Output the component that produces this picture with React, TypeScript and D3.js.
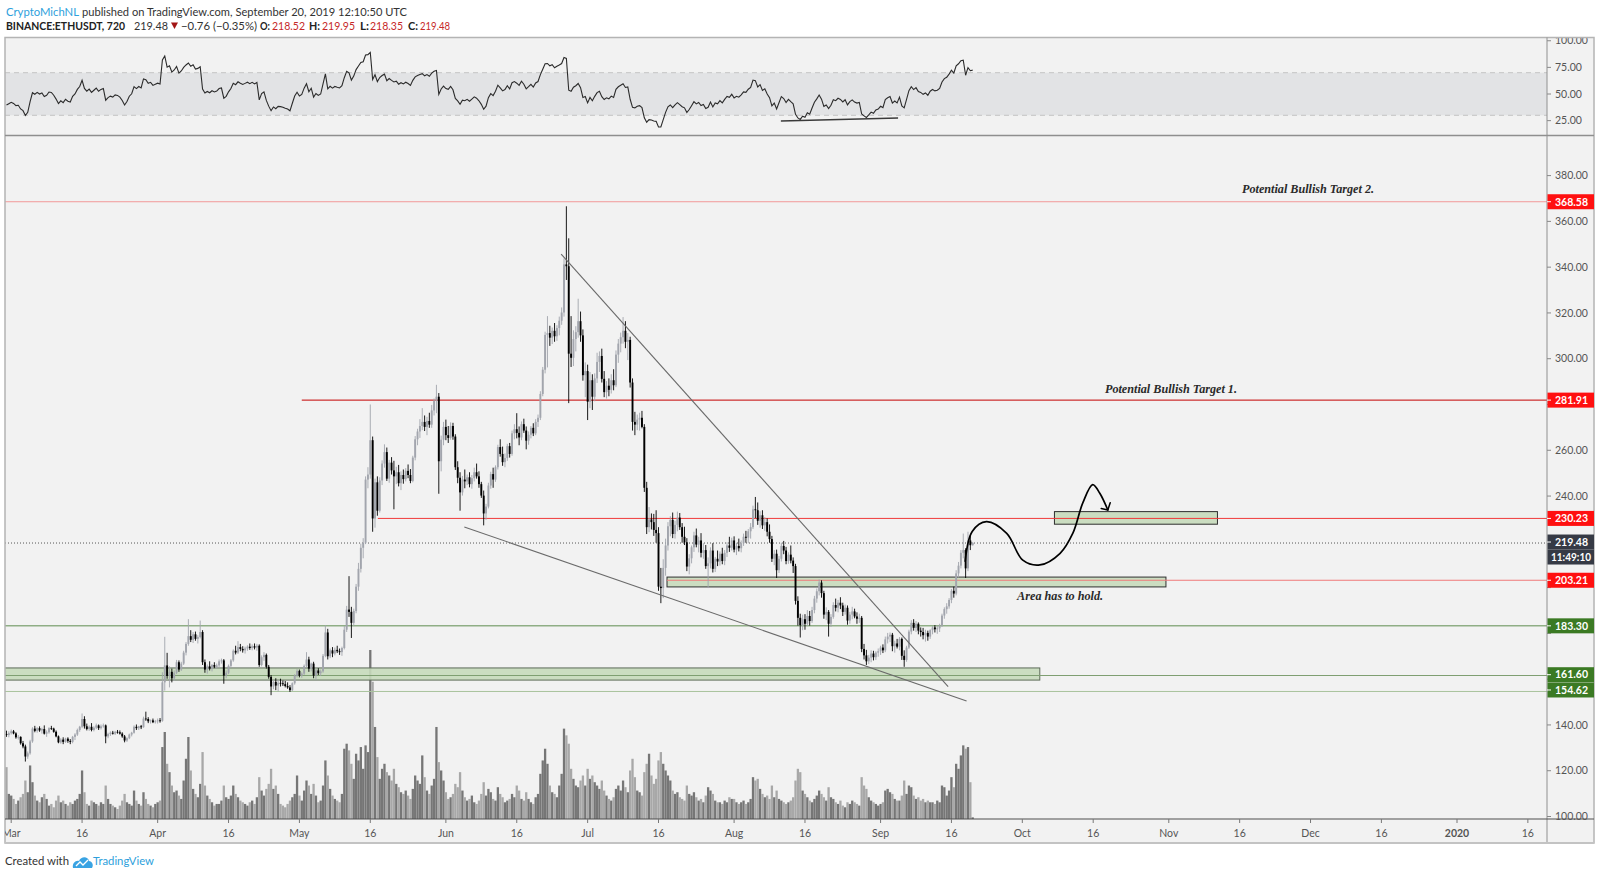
import React, { useEffect, useRef } from "react";
import * as d3 from "d3";

type Candle = [number, number, number, number]; // open, high, low, close

// BINANCE:ETHUSDT, 720 (12h) candles, first candle Feb 28 2019 00:00 UTC
const candlesFeb: Candle[] = [
  [136, 137.5, 134.8, 135.6], [135.6, 137.2, 134.6, 136.4], // 28
];
const candlesMar: Candle[] = [
  [136.4, 138, 135.8, 137.2], [137.2, 137.8, 135.9, 136.3], // 1
  [136.3, 136.8, 134, 134.6], [134.6, 135.6, 133.6, 134.8],
  [134.8, 135, 131.4, 132], [132, 133, 129.8, 130.6],
  [130.6, 131.4, 124, 126.2], [126.2, 128.4, 125.2, 127.6],
  [127.6, 133.5, 127, 132.8], [132.8, 139, 132.2, 138.4], // 5
  [138.4, 139.6, 136.8, 137.4], [137.4, 139, 136.6, 138.6],
  [138.6, 139.4, 137, 137.6], [137.6, 138.8, 136.2, 138.2],
  [138.2, 139.8, 135.8, 136.2], [136.2, 137.6, 134.8, 136.8],
  [136.8, 139, 136.2, 138.6], [138.6, 139.6, 137.8, 138.4],
  [138.4, 138.8, 136.6, 137], [137, 137.6, 134.6, 135], // 10
  [135, 135.4, 132, 132.4], [132.4, 134.2, 131.8, 133.6],
  [133.6, 134.6, 131.6, 132.6], [132.6, 134.4, 132.2, 134],
  [134, 134.6, 132.2, 133], [133, 133.8, 131.6, 132.6],
  [132.6, 135.2, 132, 134.8], [134.8, 136.4, 133.4, 135.8],
  [135.8, 138.4, 135.2, 137.8], [137.8, 139.6, 137, 139.2], // 15
  [139.2, 145, 138.6, 142.6], [142.6, 143.8, 138.4, 139.4],
  [139.4, 140.6, 137.6, 138.2], [138.2, 139.8, 137.4, 139.2],
  [139.2, 140.8, 137.2, 137.8], [137.8, 139.4, 137.2, 138.8],
  [138.8, 140.6, 138.2, 139.8], [139.8, 140.2, 137.8, 138.6],
  [138.6, 140.2, 138, 139.4], [139.4, 140.6, 138.8, 139.8], // 20
  [139.8, 140.2, 132, 135], [135, 136.6, 134.2, 136],
  [136, 137.2, 135.2, 136.6], [136.6, 137.4, 135.8, 136.2],
  [136.2, 137.4, 135.6, 137], [137, 137.8, 136.2, 136.8],
  [136.8, 137.6, 135.8, 136.2], [136.2, 136.8, 134.4, 135],
  [135, 135.6, 132.4, 133.2], [133.2, 134.6, 132.6, 134.2], // 25
  [134.2, 136.2, 133.8, 135.8], [135.8, 137, 135, 136.6],
  [136.6, 139.8, 136.2, 139.2], [139.2, 140.2, 137.8, 138.6],
  [138.6, 139.6, 137.8, 139.4], [139.4, 140, 138.2, 139],
  [139, 143.6, 138.8, 142.8], [142.8, 145.8, 141.8, 142.6],
  [142.6, 143.4, 140.8, 141.6], [141.6, 142.4, 140.6, 142], // 30
  [142, 142.8, 140.8, 141.2], [141.2, 142.2, 140.6, 141.6],
];
const candlesApr: Candle[] = [
  [141.6, 142.8, 140.6, 142], [142, 143, 141, 141.8], // 1
  [141.8, 163, 141.4, 158.6], [158.6, 178.5, 155, 166],
  [166, 171.5, 160.2, 161.4], [161.4, 165.6, 156.4, 163.2],
  [163.2, 164.6, 158.6, 160.4], [160.4, 163.8, 159.2, 162.8],
  [162.8, 168.4, 162.2, 167.4], [167.4, 168.2, 163.2, 164.2], // 5
  [164.2, 167.6, 163.6, 166.8], [166.8, 172.4, 166.2, 171.6],
  [171.6, 176.2, 170.4, 175.4], [175.4, 186.2, 174.6, 178.8],
  [178.8, 181.4, 176.2, 177.2], [177.2, 180.6, 175.8, 179.6],
  [179.6, 180.8, 176.8, 177.6], [177.6, 179.2, 175.6, 178.4],
  [178.4, 185.6, 177.8, 180.6], [180.6, 181.4, 166.2, 167.4], // 10
  [167.4, 168.6, 162.8, 164.2], [164.2, 166.4, 162.4, 165.6],
  [165.6, 167.8, 163.8, 164.6], [164.6, 166.6, 163.4, 166.2],
  [166.2, 167.4, 164.8, 165.4], [165.4, 166.8, 164.6, 166],
  [166, 168.6, 165.2, 167.8], [167.8, 169, 166.8, 168.2],
  [168.2, 168.8, 158, 161.6], [161.6, 163.8, 160.4, 162.8], // 15
  [162.8, 166.4, 162.2, 165.8], [165.8, 168.8, 165, 168.2],
  [168.2, 173, 167.6, 172.4], [172.4, 174.6, 170.8, 171.6],
  [171.6, 176.6, 171, 174], [174, 175.4, 172.2, 173.2],
  [173.2, 174.4, 171.6, 172.6], [172.6, 174.2, 171.2, 173.4],
  [173.4, 174.8, 172.4, 174.2], [174.2, 175.6, 172.8, 173.6], // 20
  [173.6, 175.2, 172.6, 174.4], [174.4, 175.6, 173, 173.8],
  [173.8, 175.4, 172.4, 174.6], [174.6, 175.2, 165.4, 166.2],
  [166.2, 170.4, 165.6, 169.6], [169.6, 171.8, 168, 170.6],
  [170.6, 171.2, 164.6, 165.4], [165.4, 166.2, 160.2, 161],
  [161, 161.8, 153, 156.8], [156.8, 159.8, 155.6, 158.8], // 25
  [158.8, 160.4, 155.2, 157.2], [157.2, 159.6, 154.6, 158.4],
  [158.4, 160.2, 156.8, 158.2], [158.2, 159.4, 157, 157.8],
  [157.8, 159.2, 156.4, 157], [157, 158.6, 155.8, 156.4],
  [156.4, 157.4, 154.4, 155.2], [155.2, 158.6, 154.8, 158.2],
  [158.2, 162.2, 157.6, 161.6], [161.6, 164.4, 160.8, 163.6], // 30
];
const candlesMay: Candle[] = [
  [163.6, 164.2, 160.8, 161.6], [161.6, 163, 160.6, 162.4], // 1
  [162.4, 166.4, 161.8, 165.8], [165.8, 171.8, 165.2, 168.6],
  [168.6, 169.8, 163.2, 164.6], [164.6, 167.2, 163.4, 166.8],
  [166.8, 167.6, 160.4, 161.6], [161.6, 164.6, 159.6, 163.8],
  [163.8, 164.8, 161.8, 162.6], [162.6, 164.2, 161.4, 163.4], // 5
  [163.4, 171, 162.8, 170.2], [170.2, 183.6, 169.6, 180.4],
  [180.4, 182, 168.6, 170], [170, 173.4, 169.2, 172.6],
  [172.6, 174, 169.6, 171.2], [171.2, 173.8, 170.4, 172.8],
  [172.8, 174.6, 171.4, 172.2], [172.2, 173.4, 170.6, 171.8],
  [171.8, 174.2, 170.2, 173.6], [173.6, 183.2, 173, 181.6], // 10
  [181.6, 192, 180.6, 190.4], [190.4, 205, 187.2, 189.4],
  [189.4, 191.6, 178, 184.6], [184.6, 190.8, 183.2, 189.8],
  [189.8, 201.6, 188.8, 200.4], [200.4, 210.8, 198.6, 208.2],
  [208.2, 219.2, 206.6, 217.4], [217.4, 221.6, 212.8, 219.6],
  [219.6, 248.6, 219, 247.2], [247.2, 252.6, 243.4, 249.4], // 15
  [249.4, 280, 247.6, 264.4], [264.4, 266, 224.4, 230.2],
  [230.2, 247.6, 226.2, 246], [246, 248.6, 231.4, 233.6],
  [233.6, 248.2, 232.8, 246.8], [246.8, 255.6, 244.8, 254.2],
  [254.2, 262.6, 252.4, 259.2], [259.2, 261.2, 246.6, 247.6],
  [247.6, 255.8, 245.8, 254.6], [254.6, 257, 249.4, 251.2], // 20
  [251.2, 255.4, 234.2, 248.6], [248.6, 252.8, 245.2, 250.4],
  [250.4, 253.6, 244.2, 245.6], [245.6, 250.8, 242.6, 249.2],
  [249.2, 251.6, 245.4, 247.4], [247.4, 252.2, 246.4, 251],
  [251, 253.8, 247.8, 249.2], [249.2, 251.8, 245.6, 246.6],
  [246.6, 257.6, 246, 256.8], [256.8, 266.2, 255.6, 264.8], // 25
  [264.8, 269.4, 262.2, 268.2], [268.2, 273.6, 265.4, 270.6],
  [270.6, 278.4, 268.8, 272.4], [272.4, 275.2, 268.4, 270.2],
  [270.2, 274.6, 266.6, 272.8], [272.8, 276.4, 269.8, 271.2],
  [271.2, 279.8, 269.8, 277.4], [277.4, 282.6, 275.2, 281.6],
  [281.6, 288.6, 276.2, 283.4], [283.4, 285, 241, 255.2], // 30
  [255.2, 266.4, 250.8, 264.6], [264.6, 272.4, 262.2, 270.2],
];
const candlesJun: Candle[] = [
  [270.2, 273.4, 264.4, 266.6], [266.6, 270.6, 263.2, 265.4], // 1
  [265.4, 272.2, 264.6, 270.6], [270.6, 272, 264.6, 266],
  [266, 267, 251.4, 252.6], [252.6, 255.2, 245.6, 248],
  [248, 250.4, 233.6, 241.6], [241.6, 248.8, 240.2, 247.2],
  [247.2, 251.6, 243.4, 246.4], [246.4, 249.4, 244.8, 248.2], // 5
  [248.2, 250.4, 243.8, 245.2], [245.2, 249.2, 243.2, 247.8],
  [247.8, 252.4, 246.4, 250.4], [250.4, 254.2, 247.6, 248.6],
  [248.6, 250.8, 243.6, 245.2], [245.2, 246.2, 239.2, 240.2],
  [240.2, 242.4, 227.2, 232.4], [232.4, 236.6, 229.6, 235.4],
  [235.4, 245.8, 234.6, 244.6], [244.6, 250.6, 243.2, 249.6], // 10
  [249.6, 252.4, 243.6, 247.2], [247.2, 253.4, 246.2, 252.6],
  [252.6, 262.4, 251.6, 261.4], [261.4, 264.8, 257.2, 258.4],
  [258.4, 261.6, 253.2, 254.8], [254.8, 258.6, 252.6, 256.6],
  [256.6, 262.8, 255.4, 261.8], [261.8, 263.2, 256.8, 258.4],
  [258.4, 268.6, 257.6, 267.4], [267.4, 271.4, 264.8, 269.2], // 15
  [269.2, 276.2, 265.2, 267.6], [267.6, 270.4, 262.2, 265.6],
  [265.6, 272.6, 264.4, 271.4], [271.4, 273.8, 267.6, 268.6],
  [268.6, 270.4, 260.4, 264.2], [264.2, 268.2, 262.4, 266.8],
  [266.8, 270.6, 265.2, 269.8], [269.8, 271.8, 266.2, 267.4],
  [267.4, 273.6, 266.6, 272.4], [272.4, 275.6, 270.2, 274.2], // 20
  [274.2, 285.8, 273.2, 284.6], [284.6, 296.4, 283.6, 295.2],
  [295.2, 311.8, 293.6, 310.4], [310.4, 318.6, 296.2, 311.2],
  [311.2, 314.4, 305.6, 309.2], [309.2, 313.6, 306.4, 312.2],
  [312.2, 315.6, 307.4, 309.8], [309.8, 314.6, 307.8, 313.4],
  [313.4, 318.4, 310.2, 316.6], [316.6, 322.4, 314.8, 320.2], // 25
  [320.2, 343.8, 318.4, 341.2], [341.2, 366.6, 334.4, 340.4],
  [340.4, 352.6, 280.6, 302.2], [302.2, 318.6, 296.4, 300.4],
  [300.4, 312.4, 296.8, 308.6], [308.6, 314.2, 303.2, 311.6],
  [311.6, 326.2, 309.2, 316.4], [316.4, 320.6, 307.4, 310.2],
  [310.2, 312.8, 290.4, 292.8], [292.8, 298.4, 283.2, 294.6], // 30
];
const candlesJul: Candle[] = [
  [294.6, 297.4, 273.2, 281.2], [281.2, 294.2, 278.4, 290.6], // 1
  [290.6, 293.2, 277.6, 283.4], [283.4, 293.6, 281.4, 291.4],
  [291.4, 302.6, 289.4, 298.6], [298.6, 303.2, 294.2, 301.2],
  [301.2, 304.4, 289.6, 291.2], [291.2, 294.6, 283.2, 285.4],
  [285.4, 290.2, 282.6, 288.2], [288.2, 291.4, 283.6, 286.4], // 5
  [286.4, 293.2, 284.8, 290.6], [290.6, 295.4, 286.2, 288.4],
  [288.4, 303.6, 287.6, 301.8], [301.8, 308.6, 298.2, 306.6],
  [306.6, 311.4, 302.8, 309.4], [309.4, 318.2, 306.6, 312.2],
  [312.2, 316.4, 304.6, 307.4], [307.4, 311.2, 299.4, 308.2],
  [308.2, 309.6, 287.4, 289.6], [289.6, 291.4, 268.6, 272.4], // 10
  [272.4, 276.8, 266.6, 271.2], [271.2, 275.6, 268.8, 273.4],
  [273.4, 276.4, 268.6, 274.2], [274.2, 277.2, 269.6, 270.2],
  [270.2, 271.4, 241.8, 243.6], [243.6, 246.2, 223.4, 226.4],
  [226.4, 235.2, 224.2, 229.8], [229.8, 232.4, 225.4, 228.6],
  [228.6, 232.2, 222.6, 225.2], [225.2, 233.8, 219.6, 223.8], // 15
  [223.8, 226.4, 198.6, 200.4], [200.4, 208.6, 193.2, 199.8],
  [199.8, 212.4, 195.4, 208.6], [208.6, 221.4, 205.2, 218.4],
  [218.4, 228.6, 216.2, 226.8], [226.8, 231.2, 222.4, 229.6],
  [229.6, 232.8, 221.6, 223.4], [223.4, 229.2, 221.4, 227.4],
  [227.4, 233.2, 224.6, 230.6], [230.6, 232.6, 225.2, 226.4], // 20
  [226.4, 228.2, 219.6, 222.2], [222.2, 226.6, 218.6, 219.8],
  [219.8, 221.6, 207.2, 209.2], [209.2, 214.6, 205.8, 212.8],
  [212.8, 218.4, 210.6, 217.6], [217.6, 224.4, 215.6, 222.8],
  [222.8, 225.8, 217.6, 218.8], [218.8, 222.2, 215.4, 220.6],
  [220.6, 223.8, 213.2, 215.2], [215.2, 219.4, 212.6, 216.4], // 25
  [216.4, 218.6, 208.2, 209.4], [209.4, 213.2, 199.8, 210.6],
  [210.6, 217.6, 208.4, 216.2], [216.2, 219.4, 206.6, 208.2],
  [208.2, 213.4, 206.8, 212.6], [212.6, 216.2, 209.4, 211.4],
  [211.4, 215.8, 209.6, 214.8], [214.8, 217.4, 210.2, 211.6],
  [211.6, 216.4, 209.8, 215.2], [215.2, 219.8, 213.4, 218.4], // 30
  [218.4, 222.2, 215.6, 217.4], [217.4, 221.8, 216.2, 220.6],
];
const candlesAug: Candle[] = [
  [220.6, 222.4, 215.4, 216.6], [216.6, 219.6, 214.2, 218.2], // 1
  [218.2, 221.4, 215.8, 217.2], [217.2, 220.6, 215.4, 219.4],
  [219.4, 223.6, 218.2, 222.2], [222.2, 224.8, 219.6, 221.8],
  [221.8, 225.6, 219.4, 224.6], [224.6, 228.2, 221.4, 226.4],
  [226.4, 235.8, 225.6, 234.2], [234.2, 239.6, 230.4, 233.8], // 5
  [233.8, 237.2, 227.4, 229.2], [229.2, 233.4, 226.2, 231.6],
  [231.6, 233.8, 225.6, 227.2], [227.2, 230.8, 224.8, 228.6],
  [228.6, 230.2, 222.4, 224.4], [224.4, 227.6, 219.6, 221.2],
  [221.2, 222.6, 211.2, 212.6], [212.6, 216.4, 209.8, 214.8],
  [214.8, 216.6, 204.2, 207.6], [207.6, 213.8, 206.4, 212.6], // 10
  [212.6, 219.6, 211.4, 218.2], [218.2, 220.4, 214.6, 216.2],
  [216.2, 217.8, 210.2, 211.6], [211.6, 215.4, 210.4, 214.4],
  [214.4, 218.4, 210.6, 211.8], [211.8, 213.2, 206.4, 209.4],
  [209.4, 210.4, 192.6, 194.2], [194.2, 196.2, 183.4, 186.8],
  [186.8, 188.6, 178.2, 183.6], [183.6, 188.2, 181.4, 186.2], // 15
  [186.2, 188.4, 181.6, 184.2], [184.2, 190.2, 183.2, 187.6],
  [187.6, 189.8, 183.4, 185.4], [185.4, 191.6, 184.6, 190.2],
  [190.2, 196.4, 188.8, 195.2], [195.2, 199.6, 193.4, 198.4],
  [198.4, 203.6, 196.6, 202.2], [202.2, 203.2, 195.6, 197.6],
  [197.6, 198.6, 186.4, 188.2], [188.2, 191.4, 185.8, 189.4], // 20
  [189.4, 190.2, 178.6, 184.2], [184.2, 188.4, 182.8, 187.2],
  [187.2, 193.6, 186.4, 192.4], [192.4, 195.2, 189.6, 191.2],
  [191.2, 194.6, 189.2, 193.4], [193.4, 195.8, 190.6, 192.2],
  [192.2, 193.4, 187.6, 189.4], [189.4, 192.6, 188.2, 191.2],
  [191.2, 192.2, 183.8, 185.6], [185.6, 189.4, 184.2, 188.2], // 25
  [188.2, 191.6, 186.2, 189.6], [189.6, 190.8, 186.6, 187.4],
  [187.4, 189.2, 184.2, 186.4], [186.4, 188.6, 184.6, 186.8],
  [186.8, 187.6, 171.8, 173.2], [173.2, 175.4, 168.6, 170.4],
  [170.4, 172.8, 166.2, 167.8], [167.8, 170.6, 166.6, 169.4],
  [169.4, 172.6, 167.4, 171.2], [171.2, 172.4, 168.2, 169.6], // 30
  [169.6, 172.2, 168.4, 171.6], [171.6, 173.4, 169.8, 172.2],
];
const candlesSep: Candle[] = [
  [172.2, 174.6, 170.6, 173.8], [173.8, 175.2, 171.4, 172.6], // 1
  [172.6, 178.6, 171.8, 177.4], [177.4, 180.2, 175.6, 178.6],
  [178.6, 180.4, 176.2, 179.4], [179.4, 180.2, 172.2, 174.4],
  [174.4, 176.8, 171.6, 175.6], [175.6, 177.6, 173.4, 174.2],
  [174.2, 178.4, 172.6, 177.6], [177.6, 178.2, 168.4, 170.2], // 5
  [170.2, 172.6, 165.4, 168.4], [168.4, 174.6, 167.6, 173.8],
  [173.8, 181.6, 173.2, 180.8], [180.8, 185.8, 179.6, 184.6],
  [184.6, 186.2, 181.2, 182.4], [182.4, 185.4, 180.6, 184.2],
  [184.2, 184.8, 179.6, 181.2], [181.2, 182.6, 178.6, 180.6],
  [180.6, 182.4, 177.4, 179.2], [179.2, 181.6, 176.4, 180.2], // 10
  [180.2, 181.2, 176.8, 178.6], [178.6, 181.8, 177.6, 181.4],
  [181.4, 183.2, 179.6, 182.6], [182.6, 183.6, 180.4, 181.8],
  [181.8, 183.4, 179.8, 182.2], [182.2, 184.2, 180.6, 183.4],
  [183.4, 188.6, 182.8, 187.8], [187.8, 191.4, 186.4, 190.6],
  [190.6, 193.2, 188.6, 191.8], [191.8, 195.4, 190.8, 194.6], // 15
  [194.6, 199.4, 193.2, 198.6], [198.6, 200.4, 195.6, 197.4],
  [197.4, 207.6, 196.6, 206.2], [206.2, 211.2, 204.4, 209.6],
  [209.6, 216.4, 208.4, 215.2], [215.2, 223.6, 212.8, 216.4],
  [216.4, 217.2, 204.2, 208.4], [208.4, 224.4, 207.2, 220.6],
  [220.6, 222.6, 216.4, 218.52], [218.52, 219.95, 218.35, 219.48], // 20
];

// volume per candle, thousand ETH
const volFeb = [310, 150];
const volMar = [
  140, 120, 90, 110, 130, 150, 230, 160, 320, 220, 140, 110, 100, 130, 150, 120,
  80, 90, 70, 110, 140, 100, 110, 90, 80, 100, 90, 110, 120, 150, 290, 160,
  90, 80, 110, 100, 90, 80, 100, 90, 200, 120, 90, 80, 70, 60, 80, 110,
  150, 100, 90, 80, 170, 110, 90, 80, 160, 120, 90, 80, 70, 90,
];
const volApr = [
  100, 110, 430, 520, 330, 280, 200, 160, 170, 140, 120, 230, 360, 490, 290, 180,
  150, 130, 210, 400, 200, 140, 120, 100, 80, 90, 90, 110, 200, 130, 120, 140,
  200, 150, 130, 110, 100, 90, 80, 100, 110, 90, 130, 250, 170, 140, 180, 210,
  300, 180, 200, 150, 90, 80, 70, 90, 110, 130, 150, 260,
];
const volMay = [
  140, 110, 170, 230, 200, 150, 210, 140, 100, 110, 200, 350, 260, 180, 140, 120,
  110, 100, 150, 420, 450, 410, 330, 240, 390, 350, 430, 300, 440, 400, 1010, 820,
  550, 370, 240, 300, 330, 280, 260, 230, 300, 210, 190, 160, 150, 170, 140, 120,
  180, 260, 230, 210, 380, 250, 170, 150, 200, 240, 550, 340, 290, 230,
];
const volJun = [
  160, 120, 130, 150, 210, 190, 280, 170, 130, 110, 120, 140, 100, 90, 110, 150,
  220, 140, 180, 160, 120, 110, 190, 150, 130, 100, 110, 120, 150, 130, 200, 170,
  120, 110, 160, 120, 100, 90, 130, 150, 270, 350, 420, 330, 200, 160, 150, 130,
  200, 270, 540, 500, 450, 300, 240, 200, 190, 230, 260, 200,
];
const volJul = [
  300, 240, 260, 220, 200, 180, 230, 170, 140, 120, 110, 130, 180, 200, 170, 230,
  190, 160, 290, 360, 250, 170, 160, 140, 280, 330, 390, 260, 210, 240, 350, 400,
  330, 290, 260, 230, 170, 150, 160, 130, 120, 110, 200, 150, 140, 160, 130, 110,
  120, 100, 140, 190, 170, 150, 110, 100, 100, 90, 110, 100, 130, 120,
];
const volAug = [
  120, 100, 90, 100, 110, 90, 100, 120, 250, 230, 240, 180, 150, 130, 140, 120,
  200, 130, 170, 120, 110, 100, 90, 100, 110, 130, 230, 300, 280, 170, 150, 130,
  110, 100, 120, 140, 170, 150, 130, 110, 190, 130, 120, 100, 90, 110, 80, 70,
  100, 90, 110, 100, 90, 80, 250, 200, 180, 130, 110, 100, 90, 80,
];
const volSep = [
  90, 100, 170, 180, 160, 150, 120, 110, 110, 140, 230, 150, 200, 190, 140, 120,
  130, 110, 120, 100, 110, 100, 100, 90, 110, 100, 200, 190, 140, 170, 250, 190,
  330, 300, 380, 440, 420, 430, 220, 10,
];

// closes Feb 20 00:00 .. Feb 27 12:00, only used to warm up RSI(14)
const rsiSeedCloses = [
  145.2, 146.8, 147.4, 145.6, 146.2, 147.8, 150.4, 155.6,
  158.4, 137.4, 139.2, 138.4, 137.2, 136.4, 134.6, 136.0,
];

const priceTicks = [100, 120, 140, 160, 180, 200, 220, 240, 260, 280, 300, 320, 340, 360, 380];
const rsiTicks = [25, 50, 75, 100];
const dateTicks = [
  "2019-03-01", "2019-03-16", "2019-04-01", "2019-04-16", "2019-05-01", "2019-05-16",
  "2019-06-01", "2019-06-16", "2019-07-01", "2019-07-16", "2019-08-01", "2019-08-16",
  "2019-09-01", "2019-09-16", "2019-10-01", "2019-10-16", "2019-11-01", "2019-11-16",
  "2019-12-01", "2019-12-16", "2020-01-01", "2020-01-16",
];
const dateLabels = [
  "Mar", "16", "Apr", "16", "May", "16", "Jun", "16", "Jul", "16", "Aug", "16",
  "Sep", "16", "Oct", "16", "Nov", "16", "Dec", "16", "2020", "16",
];

// horizontal levels drawn on the chart
const levelPrices = [368.58, 281.91, 230.23, 203.21, 183.3, 161.6, 154.62];
const levelStartDays = [-10, 61.5, 77.6, 138.8, -10, -10, -10]; // days after Mar 1
const lastPrice = 219.48;
const countdown = "11:49:10";

// zones: [startDay, endDay, lowPrice, highPrice]
const zones: [number, number, number, number][] = [
  [-10, 217.7, 159.6, 164.9],
  [138.8, 244.4, 200.3, 204.6],
  [220.8, 255.3, 227.7, 233.2],
];

// trend lines: [day, price] pairs
const upperTrend: [number, number][] = [[116.4, 345.7], [198.3, 156.7]];
const lowerTrend: [number, number][] = [[95.9, 226.5], [202.2, 150.5]];
const rsiTrend: [number, number][] = [[162.9, 24.6], [187.7, 27.5]];

// projected path [day, price]
const pathDays = [201.9, 203.4, 206.4, 210.7, 214.1, 217.7, 222.0, 224.7, 226.8, 228.9, 230.4, 232.1];
const pathPrices = [211.3, 224.5, 228.8, 223.7, 212.0, 209.9, 215.0, 223.8, 237.0, 245.0, 241.2, 233.9];
const arrowBarbs: [number, number][] = [[230.7, 234.6], [232.6, 237.1]];

// notes: [text, day, price, width]
const notes: [string, number, number, number][] = [
  ["Potential Bullish Target 2.", 260.5, 372.3, 132],
  ["Potential Bullish Target 1.", 231.5, 285.0, 132],
  ["Area has to hold.", 212.9, 194.6, 86],
];

const W = 1600;
const H = 876;
const LEFT = 5;
const AXIS_X = 1547;
const RIGHT = 1594;
const RSI_TOP = 37.5;
const RSI_BOTTOM = 135.5;
const MAIN_BOTTOM = 819;
const BOTTOM = 843;
const MAR1 = Date.UTC(2019, 2, 1);
const DAY = 864e5;
const UI = "Lato, 'Open Sans', 'Noto Sans', sans-serif";

const dayDate = (d: number) => new Date(MAR1 + d * DAY);

function computeRsi(closes: number[], period: number) {
  const out: number[] = new Array(closes.length).fill(NaN);
  let gain = 0;
  let loss = 0;
  for (let i = 1; i <= period; i++) {
    const ch = closes[i] - closes[i - 1];
    if (ch > 0) gain += ch;
    else loss -= ch;
  }
  gain /= period;
  loss /= period;
  out[period] = 100 - 100 / (1 + gain / (loss || 1e-9));
  for (let i = period + 1; i < closes.length; i++) {
    const ch = closes[i] - closes[i - 1];
    gain = (gain * (period - 1) + Math.max(ch, 0)) / period;
    loss = (loss * (period - 1) + Math.max(-ch, 0)) / period;
    out[i] = 100 - 100 / (1 + gain / (loss || 1e-9));
  }
  return out;
}

export default function App() {
  const svgRef = useRef<SVGSVGElement>(null);

  useEffect(() => {
    if (!svgRef.current) return;
    const svg = d3.select(svgRef.current);
    svg.selectAll("*").remove();

    const candles = [
      ...candlesFeb, ...candlesMar, ...candlesApr, ...candlesMay,
      ...candlesJun, ...candlesJul, ...candlesAug, ...candlesSep,
    ];
    const volumes = [
      ...volFeb, ...volMar, ...volApr, ...volMay, ...volJun, ...volJul, ...volAug, ...volSep,
    ];
    const firstCandle = Date.UTC(2019, 1, 28);
    const dates = candles.map((_, i) => new Date(firstCandle + (i * DAY) / 2));

    const x = d3
      .scaleUtc()
      .domain([new Date(MAR1), new Date(Date.UTC(2020, 0, 1))])
      .range([11.2, 1457]);
    const y = d3.scaleLinear().domain([100, 380]).range([816.5, 175.6]);
    const yR = d3.scaleLinear().domain([30, 70]).range([115.3, 72.7]);
    const yV = d3.scaleLinear().domain([0, d3.max(volumes)!]).range([MAIN_BOTTOM, 650]);

    const allCloses = [...rsiSeedCloses, ...candles.map((c) => c[3])];
    const rsi = computeRsi(allCloses, 14).slice(rsiSeedCloses.length);

    svg.append("rect").attr("width", W).attr("height", H).attr("fill", "#fff");

    const defs = svg.append("defs");
    const clip = (id: string, x0: number, y0: number, w: number, h: number) =>
      defs.append("clipPath").attr("id", id).append("rect")
        .attr("x", x0).attr("y", y0).attr("width", w).attr("height", h);
    clip("c-main", LEFT, RSI_BOTTOM, AXIS_X - LEFT, MAIN_BOTTOM - RSI_BOTTOM);
    clip("c-rsi", LEFT, RSI_TOP, AXIS_X - LEFT, RSI_BOTTOM - RSI_TOP);
    clip("c-rsi-axis", AXIS_X, RSI_TOP, RIGHT - AXIS_X, RSI_BOTTOM - RSI_TOP);
    clip("c-date", LEFT, MAIN_BOTTOM, AXIS_X - LEFT, BOTTOM - MAIN_BOTTOM);

    // panel background
    svg.append("rect")
      .attr("x", LEFT).attr("y", RSI_TOP)
      .attr("width", RIGHT - LEFT).attr("height", BOTTOM - RSI_TOP)
      .attr("fill", "#f2f2f2");

    // ---------- RSI pane ----------
    const rsiG = svg.append("g").attr("clip-path", "url(#c-rsi)");
    rsiG.append("rect")
      .attr("x", LEFT).attr("y", yR(70))
      .attr("width", AXIS_X - LEFT).attr("height", yR(30) - yR(70))
      .attr("fill", "#e2e3e5");
    [70, 30].forEach((v) => {
      rsiG.append("line")
        .attr("x1", LEFT).attr("x2", AXIS_X)
        .attr("y1", yR(v)).attr("y2", yR(v))
        .attr("stroke", "#c4c4c4").attr("stroke-dasharray", "5,4");
    });
    const rsiLine = d3.line<number>()
      .defined((v) => !isNaN(v))
      .x((_, i) => x(dates[i]))
      .y((v) => yR(v));
    rsiG.append("path").datum(rsi)
      .attr("d", rsiLine).attr("fill", "none")
      .attr("stroke", "#2b2b2b").attr("stroke-width", 1.1);
    rsiG.append("line")
      .attr("x1", x(dayDate(rsiTrend[0][0]))).attr("y1", yR(rsiTrend[0][1]))
      .attr("x2", x(dayDate(rsiTrend[1][0]))).attr("y2", yR(rsiTrend[1][1]))
      .attr("stroke", "#3a3a3a").attr("stroke-width", 1.4);

    const rsiAxis = svg.append("g").attr("clip-path", "url(#c-rsi-axis)");
    rsiTicks.forEach((v) => {
      rsiAxis.append("line")
        .attr("x1", AXIS_X).attr("x2", AXIS_X + 4)
        .attr("y1", yR(v)).attr("y2", yR(v)).attr("stroke", "#888");
      rsiAxis.append("text")
        .attr("x", AXIS_X + 8).attr("y", yR(v)).attr("dy", "0.35em")
        .attr("font-family", UI).attr("font-size", 10.5).attr("fill", "#555")
        .text(v.toFixed(2));
    });

    // ---------- main pane ----------
    const main = svg.append("g").attr("clip-path", "url(#c-main)");

    // volume
    main.append("g").selectAll("rect")
      .data(volumes.slice(0, candles.length))
      .join("rect")
      .attr("x", (_, i) => x(dates[i]) - 1.15)
      .attr("width", 2.3)
      .attr("y", (v) => yV(v))
      .attr("height", (v) => MAIN_BOTTOM - yV(v))
      .attr("fill", (_, i) => (candles[i][3] >= candles[i][0] ? "#767676" : "#a8a8a8"));

    // zones
    const zoneG = main.append("g");
    zones.forEach(([d0, d1, lo, hi], k) => {
      zoneG.append("rect")
        .attr("x", x(dayDate(d0))).attr("y", y(hi))
        .attr("width", x(dayDate(d1)) - x(dayDate(d0)))
        .attr("height", y(lo) - y(hi))
        .attr("fill", "#c6dabb").attr("fill-opacity", 0.9)
        .attr("stroke", k === 0 ? "#5d6b58" : "#2f2f2f").attr("stroke-width", 1);
    });

    // level lines
    const levelColors = ["#f29a9a", "#c40000", "#f03a3a", "#f07a7a", "#5f8c50", "#7f9f72", "#a9c39d"];
    levelPrices.forEach((p, k) => {
      main.append("line")
        .attr("x1", x(dayDate(levelStartDays[k]))).attr("x2", AXIS_X)
        .attr("y1", y(p)).attr("y2", y(p))
        .attr("stroke", levelColors[k]).attr("stroke-width", 1);
    });
    main.append("line")
      .attr("x1", LEFT).attr("x2", AXIS_X)
      .attr("y1", y(lastPrice)).attr("y2", y(lastPrice))
      .attr("stroke", "#555").attr("stroke-dasharray", "1,2");

    // candles
    const cg = main.append("g");
    candles.forEach((c, i) => {
      const [o, h, l, cl] = c;
      const cx = x(dates[i]);
      const up = cl >= o;
      const col = up ? "#a2a5ad" : "#000";
      cg.append("line")
        .attr("x1", cx).attr("x2", cx)
        .attr("y1", y(h)).attr("y2", y(l))
        .attr("stroke", col).attr("stroke-width", 0.9);
      const top = y(Math.max(o, cl));
      const bot = y(Math.min(o, cl));
      cg.append("rect")
        .attr("x", cx - 0.95).attr("width", 1.9)
        .attr("y", top).attr("height", Math.max(bot - top, 0.8))
        .attr("fill", col);
    });

    // trend lines
    [upperTrend, lowerTrend].forEach((t) => {
      main.append("line")
        .attr("x1", x(dayDate(t[0][0]))).attr("y1", y(t[0][1]))
        .attr("x2", x(dayDate(t[1][0]))).attr("y2", y(t[1][1]))
        .attr("stroke", "#6a6a6a").attr("stroke-width", 1.1);
    });

    // projected path with arrow
    const pathPts = pathDays.map((d, i) => [x(dayDate(d)), y(pathPrices[i])] as [number, number]);
    main.append("path")
      .attr("d", d3.line().curve(d3.curveCatmullRom.alpha(0.5))(pathPts))
      .attr("fill", "none").attr("stroke", "#000").attr("stroke-width", 1.7);
    const tip = pathPts[pathPts.length - 1];
    arrowBarbs.forEach(([d, p]) => {
      main.append("line")
        .attr("x1", x(dayDate(d))).attr("y1", y(p))
        .attr("x2", tip[0]).attr("y2", tip[1])
        .attr("stroke", "#000").attr("stroke-width", 1.5).attr("stroke-linecap", "round");
    });

    // notes
    notes.forEach(([t, d, p, w]) => {
      main.append("text")
        .attr("x", x(dayDate(d))).attr("y", y(p))
        .attr("font-family", "'Liberation Serif', 'DejaVu Serif', serif")
        .attr("font-style", "italic").attr("font-weight", "bold")
        .attr("font-size", 12).attr("fill", "#2a2a2a")
        .attr("textLength", w).attr("lengthAdjust", "spacingAndGlyphs")
        .text(t);
    });

    // ---------- frame ----------
    svg.append("rect")
      .attr("x", LEFT).attr("y", RSI_TOP)
      .attr("width", RIGHT - LEFT).attr("height", BOTTOM - RSI_TOP)
      .attr("fill", "none").attr("stroke", "#b4b4b4").attr("stroke-width", 1.5);
    svg.append("line")
      .attr("x1", LEFT).attr("x2", RIGHT).attr("y1", RSI_BOTTOM).attr("y2", RSI_BOTTOM)
      .attr("stroke", "#8f8f8f").attr("stroke-width", 1.5);
    svg.append("line")
      .attr("x1", AXIS_X).attr("x2", AXIS_X).attr("y1", RSI_TOP).attr("y2", BOTTOM)
      .attr("stroke", "#909090").attr("stroke-width", 1);
    svg.append("line")
      .attr("x1", LEFT).attr("x2", RIGHT).attr("y1", MAIN_BOTTOM).attr("y2", MAIN_BOTTOM)
      .attr("stroke", "#4f4f4f").attr("stroke-width", 1);

    // price tags (level tags, last price, countdown)
    const tagYs = levelPrices.map((p, k) => y(p) - (k === 5 ? 0.8 : k === 6 ? 1.5 : 0));
    const lastY = y(lastPrice) - 1;
    const allTagYs = [...tagYs, lastY, lastY + 15];

    // price axis: labels hidden where a tag covers them
    const pa = svg.append("g");
    priceTicks.forEach((p) => {
      pa.append("line")
        .attr("x1", AXIS_X).attr("x2", AXIS_X + 4)
        .attr("y1", y(p)).attr("y2", y(p)).attr("stroke", "#888");
      if (allTagYs.some((ty) => Math.abs(ty - y(p)) < 13)) return;
      pa.append("text")
        .attr("x", AXIS_X + 8).attr("y", y(p)).attr("dy", "0.35em")
        .attr("font-family", UI).attr("font-size", 10.5).attr("fill", "#555")
        .text(p.toFixed(2));
    });

    const tag = (cy: number, fill: string, label: string, withTick: boolean) => {
      pa.append("rect")
        .attr("x", AXIS_X + 0.5).attr("y", cy - 7.5)
        .attr("width", RIGHT - AXIS_X - 0.5).attr("height", 15)
        .attr("fill", fill);
      if (withTick) {
        pa.append("line")
          .attr("x1", AXIS_X).attr("x2", AXIS_X + 4)
          .attr("y1", cy).attr("y2", cy).attr("stroke", "#fff");
      }
      pa.append("text")
        .attr("x", withTick ? AXIS_X + 8 : AXIS_X + 4).attr("y", cy).attr("dy", "0.36em")
        .attr("font-family", UI).attr("font-size", 10.5).attr("font-weight", "bold")
        .attr("fill", "#fff")
        .attr("textLength", withTick ? 33 : 40).attr("lengthAdjust", "spacingAndGlyphs")
        .text(label);
    };
    const tagColors = ["#ff1010", "#ff1010", "#ff1010", "#ff1010", "#3b7a24", "#3b7a24", "#3b7a24"];
    levelPrices.forEach((p, k) => tag(tagYs[k], tagColors[k], p.toFixed(2), true));
    tag(lastY, "#363a45", lastPrice.toFixed(2), true);
    tag(lastY + 15, "#363a45", countdown, false);

    // date axis
    const da = svg.append("g").attr("clip-path", "url(#c-date)");
    dateTicks.forEach((s, k) => {
      const px = x(new Date(s + "T00:00:00Z"));
      da.append("line")
        .attr("x1", px).attr("x2", px)
        .attr("y1", MAIN_BOTTOM).attr("y2", MAIN_BOTTOM + 4).attr("stroke", "#777");
      da.append("text")
        .attr("x", px).attr("y", 837).attr("text-anchor", "middle")
        .attr("font-family", UI).attr("font-size", 10.5)
        .attr("font-weight", dateLabels[k] === "2020" ? "bold" : "normal")
        .attr("fill", "#555").text(dateLabels[k]);
    });
    svg.append("line")
      .attr("x1", LEFT).attr("x2", RIGHT).attr("y1", BOTTOM).attr("y2", BOTTOM)
      .attr("stroke", "#c3c3c3").attr("stroke-width", 2);

    // ---------- header ----------
    const hdr = svg.append("g").attr("font-family", UI).attr("font-size", 12);
    hdr.append("text").attr("x", 6).attr("y", 16).attr("fill", "#2e9fdc")
      .attr("textLength", 73).attr("lengthAdjust", "spacingAndGlyphs").text("CryptoMichNL");
    hdr.append("text").attr("x", 82).attr("y", 16).attr("fill", "#333")
      .attr("textLength", 325).attr("lengthAdjust", "spacingAndGlyphs")
      .text("published on TradingView.com, September 20, 2019 12:10:50 UTC");
    // [text, x, width, colour, weight, size]
    const parts: [string, number, number, string, string, number][] = [
      ["BINANCE:ETHUSDT, 720", 6, 119, "#222", "bold", 11],
      ["219.48", 134, 34, "#333", "normal", 12],
      ["−0.76 (−0.35%)", 181, 76, "#333", "normal", 12],
      ["O:", 260, 10, "#222", "bold", 12],
      ["218.52", 272, 33, "#c62828", "normal", 12],
      ["H:", 309, 11, "#222", "bold", 12],
      ["219.95", 322, 33, "#c62828", "normal", 12],
      ["L:", 360, 9, "#222", "bold", 12],
      ["218.35", 370, 33, "#c62828", "normal", 12],
      ["C:", 408, 10, "#222", "bold", 12],
      ["219.48", 420, 30, "#c62828", "normal", 12],
    ];
    parts.forEach(([t, px, w, col, fw, fs]) => {
      hdr.append("text").attr("x", px).attr("y", 29.5)
        .attr("fill", col).attr("font-weight", fw).attr("font-size", fs)
        .attr("textLength", w).attr("lengthAdjust", "spacingAndGlyphs")
        .text(t);
    });
    hdr.append("path").attr("d", "M171,22.5 L178,22.5 L174.5,29 Z").attr("fill", "#a31515");

    // ---------- footer ----------
    svg.append("text").attr("x", 5).attr("y", 865)
      .attr("font-family", UI).attr("font-size", 12).attr("fill", "#333")
      .attr("textLength", 64).attr("lengthAdjust", "spacingAndGlyphs")
      .text("Created with");
    svg.append("path")
      .attr("d", "M73,868 C72,863 76,860 79,861 C81,856 88,856 89,861 C92,861 94,865 92,868 Z")
      .attr("fill", "#39a3e3");
    svg.append("path")
      .attr("d", "M76,866 L80,862 L83,865 L88,860")
      .attr("fill", "none").attr("stroke", "#fff").attr("stroke-width", 1.3);
    svg.append("text").attr("x", 93).attr("y", 865)
      .attr("font-family", UI).attr("font-size", 12).attr("fill", "#2e9fdc")
      .attr("textLength", 61).attr("lengthAdjust", "spacingAndGlyphs")
      .text("TradingView");
  }, []);

  return (
    <svg
      ref={svgRef}
      width={W}
      height={H}
      style={{ position: "absolute", left: 0, top: 0, display: "block" }}
    />
  );
}
